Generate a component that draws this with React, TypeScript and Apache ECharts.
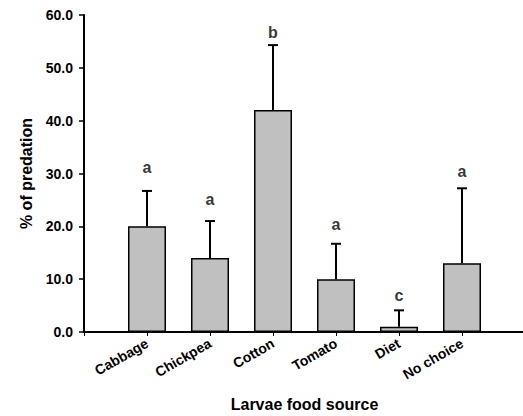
import React, { useEffect, useRef } from "react";
import * as echarts from "echarts";

const categories = ["Cabbage", "Chickpea", "Cotton", "Tomato", "Diet", "No choice"];
const means = [20.0, 14.0, 42.0, 10.0, 1.0, 13.0];
const errorTops = [26.7, 21.0, 54.3, 16.7, 4.1, 27.2];
const letters = ["a", "a", "b", "a", "c", "a"];
const letterY = [31.2, 25.0, 56.6, 20.4, 7.0, 30.3];
const yTicks = { min: 0, max: 60, interval: 10 };

const FONT = "Liberation Sans, Arial, sans-serif";

export default function App() {
  const ref = useRef<HTMLDivElement>(null);
  useEffect(() => {
    if (!ref.current) return;
    const chart = echarts.init(ref.current, null, { renderer: "svg" });
    const axisCats = ["", ...categories, ""];
    const barData = [null, ...means, null];
    const errData = categories.map((_, i) => [i + 1, means[i], errorTops[i]]);
    const letterData = categories.map((_, i) => [i + 1, letterY[i], letters[i]]);
    chart.setOption({
      animation: false,
      grid: { left: 84, right: -2, top: 15, bottom: 84, outerBoundsMode: "none", containLabel: false },
      xAxis: {
        type: "category",
        data: axisCats,
        boundaryGap: false,
        name: "Larvae food source",
        nameLocation: "middle",
        nameGap: 64,
        nameTextStyle: { fontFamily: FONT, fontWeight: "bold", fontSize: 16, color: "#000" },
        axisLine: { lineStyle: { color: "#000", width: 2 } },
        axisTick: { show: true, length: 4, lineStyle: { color: "#000", width: 1 }, alignWithLabel: true, interval: 0 },
        axisLabel: {
          interval: 0,
          rotate: 30,
          margin: 10,
          fontFamily: FONT,
          fontWeight: "bold",
          fontSize: 14,
          color: "#000",
        },
        splitLine: { show: false },
      },
      yAxis: {
        type: "value",
        min: yTicks.min,
        max: yTicks.max,
        interval: yTicks.interval,
        name: "% of predation",
        nameLocation: "middle",
        nameRotate: 90,
        nameGap: 50,
        nameTextStyle: { fontFamily: FONT, fontWeight: "bold", fontSize: 16, color: "#000" },
        axisLine: { show: true, lineStyle: { color: "#000", width: 2 } },
        axisTick: { show: true, length: 5, lineStyle: { color: "#000", width: 1.5 } },
        axisLabel: {
          margin: 11,
          fontFamily: FONT,
          fontWeight: "bold",
          fontSize: 14,
          color: "#000",
          formatter: (v: number) => v.toFixed(1),
        },
        splitLine: { show: false },
      },
      series: [
        {
          type: "bar",
          data: barData,
          barWidth: 38,
          itemStyle: { color: "#c0c0c0", borderColor: "#000", borderWidth: 1.5 },
          z: 2,
        },
        {
          type: "custom",
          data: errData,
          z: 3,
          renderItem: (params: any, api: any) => {
            const x = api.value(0);
            const base = api.coord([x, api.value(1)]);
            const top = api.coord([x, api.value(2)]);
            const half = 5;
            return {
              type: "group",
              children: [
                {
                  type: "line",
                  shape: { x1: base[0], y1: base[1], x2: top[0], y2: top[1] },
                  style: { stroke: "#000", lineWidth: 2 },
                },
                {
                  type: "line",
                  shape: { x1: top[0] - half, y1: top[1], x2: top[0] + half, y2: top[1] },
                  style: { stroke: "#000", lineWidth: 2 },
                },
              ],
            };
          },
        },
        {
          type: "scatter",
          data: letterData,
          symbolSize: 0,
          z: 4,
          label: {
            show: true,
            position: "inside",
            formatter: (p: any) => p.value[2],
            fontFamily: FONT,
            fontWeight: "bold",
            fontSize: 16,
            color: "#000",
          },
        },
      ],
    });
    return () => chart.dispose();
  }, []);
  return (
    <div
      ref={ref}
      style={{ position: "fixed", left: 0, top: 0, width: 523, height: 416, background: "#fff" }}
    />
  );
}
